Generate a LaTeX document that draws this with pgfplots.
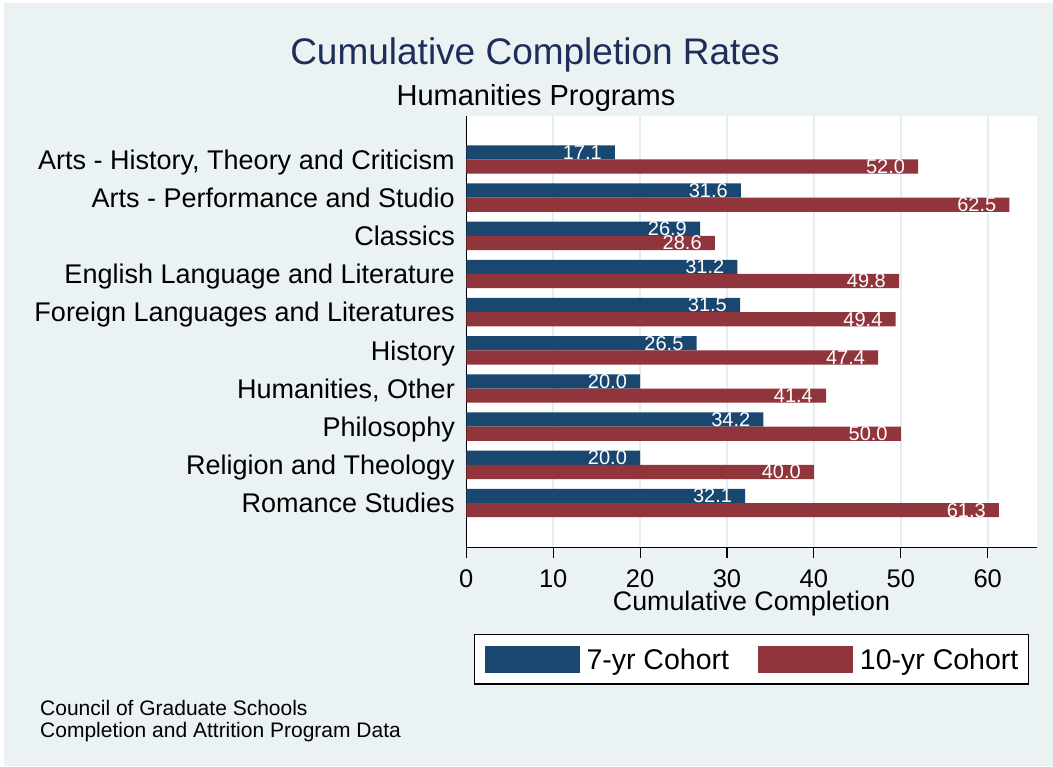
\documentclass[border=0pt]{standalone}
\usepackage{fontspec}
\setmainfont{Liberation Sans}
\usepackage{pgfplots}
\pgfplotsset{compat=1.18}
\definecolor{bg}{RGB}{234,242,243}
\definecolor{navy}{RGB}{26,71,111}
\definecolor{maroon}{RGB}{144,53,59}
\definecolor{titlec}{RGB}{30,46,88}
\definecolor{gridc}{RGB}{228,238,240}
\begin{document}
\begin{tikzpicture}
\useasboundingbox (-466.3bp,-219.7bp) rectangle (586.7bp,547.3bp);
\fill[white] (-466.3bp,-219.7bp) rectangle (586.7bp,547.3bp);
\fill[bg] (-462.3bp,-218.7bp) rectangle (586.7bp,544.3bp);
\node[anchor=base, font=\fontsize{37bp}{40bp}\selectfont, text=titlec, inner sep=0] at (68.7bp,482.8bp) {Cumulative Completion Rates};
\node[anchor=base, font=\fontsize{29bp}{32bp}\selectfont, inner sep=0] at (69.7bp,441.8bp) {Humanities Programs};
\node[anchor=base west, font=\fontsize{21bp}{22bp}\selectfont, inner sep=0] at (-426.3bp,-167.7bp) {Council of Graduate Schools};
\node[anchor=base west, font=\fontsize{21bp}{22bp}\selectfont, inner sep=0] at (-426.3bp,-189.7bp) {Completion and Attrition Program Data};
\begin{axis}[
  scale only axis, width=570.4bp, height=431.6bp,
  xbar, bar width=14.2bp,
  xmin=0, xmax=65.64, ymin=-0.16, ymax=11.147,
  axis lines=left, axis line style={-, line width=1.1bp, black},
  axis background/.style={fill=white},
  xtick={0,10,...,60}, ytick={1,...,10},
  yticklabels={Romance Studies, Religion and Theology, Philosophy, {Humanities, Other}, History, Foreign Languages and Literatures, English Language and Literature, Classics, Arts - Performance and Studio, {Arts - History, Theory and Criticism}},
  ytick style={draw=none},
  xtick style={line width=1.1bp, black},
  tick align=outside, major tick length=10.5bp,
  xmajorgrids, grid style={gridc, line width=2bp},
  /pgf/number format/assume math mode=true,
  xticklabel style={font=\fontsize{25.5bp}{28bp}\selectfont, anchor=base, inner sep=0, text depth=0pt, yshift=-29.6bp},
  yticklabel style={font=\fontsize{27bp}{30bp}\selectfont, anchor=base east, inner sep=0, yshift=-9.7bp, xshift=-0.8bp},
  xlabel={Cumulative Completion},
  xlabel style={font=\fontsize{26.8bp}{30bp}\selectfont, at={(axis description cs:0.5,0)}, anchor=base, inner sep=0, yshift=-63bp},
  point meta=x,
  nodes near coords={\pgfmathprintnumber[fixed,zerofill,precision=1]{\pgfplotspointmeta}},
  every node near coord/.append style={anchor=east, inner sep=0, xshift=-13bp, white, font=\fontsize{20bp}{22bp}\selectfont},
  legend columns=2,
  legend style={at={(0.5,-0.2009)}, anchor=north, draw=black, line width=1.2bp, fill=white, inner xsep=10bp, inner ysep=11bp,
    nodes={inner sep=0pt, text depth=0pt, font=\fontsize{28.5bp}{30bp}\selectfont},
    /tikz/every odd column/.append style={column sep=6.5bp},
    /tikz/every even column/.append style={column sep=29bp}},
  legend image code/.code={\path[#1,draw=none] (0bp,-13.65bp) rectangle (95.4bp,13.65bp);},
]
\addplot[fill=navy, draw=none, bar shift=7.1bp] coordinates {(17.1,10) (31.6,9) (26.9,8) (31.2,7) (31.5,6) (26.5,5) (20.0,4) (34.2,3) (20.0,2) (32.1,1)};
\addplot[fill=maroon, draw=none, bar shift=-7.1bp] coordinates {(52.0,10) (62.5,9) (28.6,8) (49.8,7) (49.4,6) (47.4,5) (41.4,4) (50.0,3) (40.0,2) (61.3,1)};
\legend{7-yr Cohort, 10-yr Cohort}
\end{axis}
\end{tikzpicture}
\end{document}
